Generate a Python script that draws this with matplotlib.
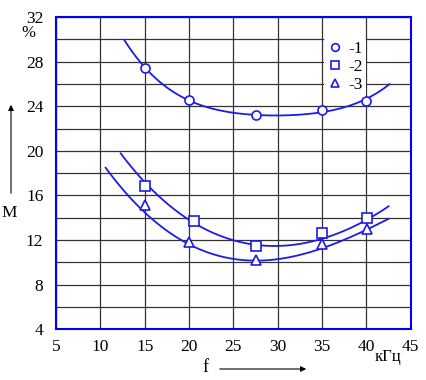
import numpy as np
import matplotlib
matplotlib.use('Agg')
import matplotlib.pyplot as plt

# measured points (f, kHz ; M, %)
f1 = [15, 20, 27.5, 35, 40]
m1 = [27.4, 24.6, 23.2, 23.7, 24.5]
f2 = [15, 20.6, 27.6, 35, 40.1]
m2 = [16.8, 13.7, 11.5, 12.6, 14.0]
f3 = [15, 20, 27.5, 35, 40.1]
m3 = [15.1, 11.8, 10.2, 11.6, 13.0]

# points
cf1 = [12.7, 15, 20, 24.4, 30.6, 35, 40, 42.6]
cm1 = [30.0, 27.4, 24.6, 23.5, 23.05, 23.6, 24.6, 26.0]
cf2 = [12.3, 15, 20.6, 27.6, 29.9, 35, 40, 42.5]
cm2 = [19.9, 16.9, 13.8, 11.4, 11.4, 12.2, 13.8, 15.0]
cf3 = [10.6, 15, 20, 28.7, 35, 40, 42.5]
cm3 = [18.5, 14.4, 11.7, 10.1, 11.3, 12.9, 13.9]

labels = ['-1', '-2', '-3']

blue = '#1c1ce6'
plt.rcParams['font.family'] = ['Liberation Serif', 'DejaVu Serif']

fig = plt.figure(figsize=(4.27, 3.80), dpi=100)
ax = fig.add_axes([0.131, 0.134, 0.831, 0.821])

handles = []
for cf, cm, f, m, mk, lab in [(cf1, cm1, f1, m1, 'o', labels[0]),
                              (cf2, cm2, f2, m2, 's', labels[1]),
                              (cf3, cm3, f3, m3, '^', labels[2])]:
    coef = np.polyfit(cf, cm, 4)
    xs = np.linspace(cf[0], cf[-1], 200)
    ax.plot(xs, np.polyval(coef, xs), color=blue, lw=1.3, zorder=3)
    h, = ax.plot(f, m, linestyle='none', marker=mk, markersize=7 if mk != 'o' else 6.5,
                 markerfacecolor='white', markeredgecolor=blue, markeredgewidth=1.2,
                 zorder=4, label=lab)
    handles.append(h)

ax.set_xlim(5, 45)
ax.set_ylim(4, 32)
ax.set_xticks(range(5, 50, 5))
ax.set_yticks(range(4, 33, 4))
ax.set_yticks(range(6, 32, 4), minor=True)
ax.grid(True, which='both', color='#333333', lw=0.9)
ax.set_axisbelow(True)
ax.tick_params(which='both', length=0, labelsize=12.5)
ax.tick_params(axis='y', pad=9)
ax.tick_params(axis='x', pad=7)
for s in ax.spines.values():
    s.set_color('#0000ff')
    s.set_linewidth(1.5)

leg = ax.legend(handles=handles, loc='upper right', bbox_to_anchor=(0.875, 0.935),
                fontsize=12.5, frameon=True, framealpha=1, edgecolor='white',
                handlelength=0.9, handletextpad=0.3, labelspacing=0.12,
                borderpad=0.2, borderaxespad=0, markerscale=0.85)
leg.get_frame().set_linewidth(0)

# axis annotations
fig.text(28 / 427, 1 - 33 / 380, '%', fontsize=12, ha='center', va='center')
fig.text(9 / 427, 1 - 213 / 380, 'M', fontsize=12.5, ha='center', va='center')
fig.text(205 / 427, 1 - 368 / 380, 'f', fontsize=13, ha='center', va='center')
fig.text(388 / 427, 1 - 357 / 380, 'кГц', fontsize=12, ha='center', va='center')
fig.add_artist(matplotlib.patches.FancyArrowPatch(
    (11 / 427, 1 - 196 / 380), (11 / 427, 1 - 102 / 380), transform=fig.transFigure,
    arrowstyle='-|>', mutation_scale=8, color='black', lw=0.8))
fig.add_artist(matplotlib.patches.FancyArrowPatch(
    (217 / 427, 1 - 369 / 380), (309 / 427, 1 - 369 / 380), transform=fig.transFigure,
    arrowstyle='-|>', mutation_scale=8, color='black', lw=0.8))

fig.savefig('out.png', dpi=100)
